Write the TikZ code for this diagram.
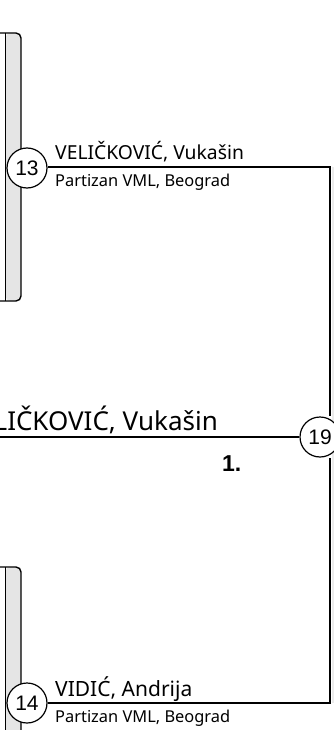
\documentclass[tikz,border=0pt]{standalone}
\usepackage{fontspec}
\setmainfont{Noto Sans}
\newfontfamily\numfont{Liberation Sans}
\begin{document}
\begin{tikzpicture}[x=1pt,y=-1pt,
  seatnode/.style={circle,draw=black,line width=1.2pt,fill=white,minimum size=40pt,inner sep=0pt,font=\numfont\fontsize{21}{21}\selectfont},
  connline/.style={draw=black,line width=1.3pt},
  taboutline/.style={draw=black,line width=1.4pt,rounded corners=5pt},
  tabfill/.style={fill=black!10,rounded corners=5pt},
  playertext/.style={anchor=base west,inner sep=0pt},
  clubtext/.style={anchor=base west,inner sep=0pt,font=\fontsize{16.4}{16.4}\selectfont},
  wintext/.style={anchor=base east,inner sep=0pt,font=\fontsize{26}{26}\selectfont}]
\useasboundingbox (0,0) rectangle (334,730);
% left tabs (previous round boxes)
\fill[tabfill] (5.5,33) -- (21,33) -- (21,301) -- (5.5,301) -- cycle;
\draw[taboutline] (-3,33) -- (21,33) -- (21,301) -- (-3,301);
\draw[line width=1.2pt] (5.5,33) -- (5.5,301);
\fill[tabfill] (5.5,567) -- (21,567) -- (21,760) -- (5.5,760) -- cycle;
\draw[taboutline] (-3,567) -- (21,567) -- (21,760);
\draw[line width=1.2pt] (5.5,567) -- (5.5,740);
% right light strip
\fill[black!8] (331.5,167) rectangle (334,703);
% seats
\node[seatnode] (s13) at (27,168) {13};
\node[seatnode] (s14) at (27,703) {14};
\node[seatnode] (s19) at (320,437) {19};
\coordinate (c13) at (330,167);
\coordinate (c14) at (330,703);
\coordinate (w) at (-5,437);
% connectors
\draw[connline] (s13.east |- c13) -- (c13) -- (s19.north -| c13);
\draw[connline] (s14.east) -- (c14) -- (s19.south -| c14);
\draw[connline] (w) -- (s19.west);
% texts
\node[playertext,font=\fontsize{19.3}{19.3}\selectfont] (n13) at (55,160) {VELIČKOVIĆ, Vukašin};
\node[clubtext] (k13) at (55,186) {Partizan VML, Beograd};
\node[playertext,font=\fontsize{21}{21}\selectfont] (n14) at (55,696) {VIDIĆ, Andrija};
\node[clubtext] (k14) at (55,722) {Partizan VML, Beograd};
\node[wintext] (win) at (218,430) {VELIČKOVIĆ, Vukašin};
\node[anchor=base west,inner sep=0pt,font=\numfont\bfseries\fontsize{23}{23}\selectfont] (place) at (222,471) {1.};
\end{tikzpicture}
\end{document}
